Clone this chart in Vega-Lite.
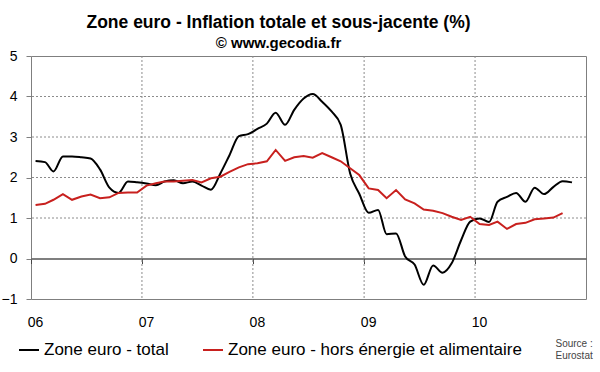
{
  "$schema": "https://vega.github.io/schema/vega-lite/v6.json",
  "width": 555,
  "height": 243,
  "autosize": {"type": "none"},
  "padding": {"left": 31, "top": 56, "right": 14, "bottom": 73},
  "background": "white",
  "title": {
    "text": "Zone euro - Inflation totale et sous-jacente (%)",
    "subtitle": "© www.gecodia.fr",
    "anchor": "middle",
    "frame": "group",
    "dx": -30,
    "offset": -2,
    "font": "Liberation Sans",
    "fontSize": 17.5,
    "fontWeight": "bold",
    "color": "#000000",
    "subtitleFont": "Liberation Sans",
    "subtitleFontSize": 15,
    "subtitleFontWeight": "bold",
    "subtitleColor": "#000000",
    "subtitlePadding": 5
  },
  "config": {
    "font": "Liberation Sans",
    "view": {"stroke": "#7f7f7f", "strokeWidth": 1}
  },
  "datasets": {
    "hgrid": [{"v": 1}, {"v": 2}, {"v": 3}, {"v": 4}],
    "vgrid": [{"d": "2007-01-01"}, {"d": "2008-01-01"}, {"d": "2009-01-01"}, {"d": "2010-01-01"}],
    "series": [
      {"d": "2006-01-16", "s": "Zone euro - total", "v": 2.41},
      {"d": "2006-02-16", "s": "Zone euro - total", "v": 2.38},
      {"d": "2006-03-16", "s": "Zone euro - total", "v": 2.15},
      {"d": "2006-04-16", "s": "Zone euro - total", "v": 2.52},
      {"d": "2006-05-16", "s": "Zone euro - total", "v": 2.52},
      {"d": "2006-06-16", "s": "Zone euro - total", "v": 2.5},
      {"d": "2006-07-16", "s": "Zone euro - total", "v": 2.47},
      {"d": "2006-08-16", "s": "Zone euro - total", "v": 2.2},
      {"d": "2006-09-16", "s": "Zone euro - total", "v": 1.75},
      {"d": "2006-10-16", "s": "Zone euro - total", "v": 1.62},
      {"d": "2006-11-16", "s": "Zone euro - total", "v": 1.9},
      {"d": "2006-12-16", "s": "Zone euro - total", "v": 1.88},
      {"d": "2007-01-16", "s": "Zone euro - total", "v": 1.85},
      {"d": "2007-02-16", "s": "Zone euro - total", "v": 1.81},
      {"d": "2007-03-16", "s": "Zone euro - total", "v": 1.9},
      {"d": "2007-04-16", "s": "Zone euro - total", "v": 1.93},
      {"d": "2007-05-16", "s": "Zone euro - total", "v": 1.86},
      {"d": "2007-06-16", "s": "Zone euro - total", "v": 1.9},
      {"d": "2007-07-16", "s": "Zone euro - total", "v": 1.8},
      {"d": "2007-08-16", "s": "Zone euro - total", "v": 1.7},
      {"d": "2007-09-16", "s": "Zone euro - total", "v": 2.1},
      {"d": "2007-10-16", "s": "Zone euro - total", "v": 2.55},
      {"d": "2007-11-16", "s": "Zone euro - total", "v": 3.02},
      {"d": "2007-12-16", "s": "Zone euro - total", "v": 3.07},
      {"d": "2008-01-16", "s": "Zone euro - total", "v": 3.2},
      {"d": "2008-02-16", "s": "Zone euro - total", "v": 3.33},
      {"d": "2008-03-16", "s": "Zone euro - total", "v": 3.6},
      {"d": "2008-04-16", "s": "Zone euro - total", "v": 3.3},
      {"d": "2008-05-16", "s": "Zone euro - total", "v": 3.67},
      {"d": "2008-06-16", "s": "Zone euro - total", "v": 3.95},
      {"d": "2008-07-16", "s": "Zone euro - total", "v": 4.06},
      {"d": "2008-08-16", "s": "Zone euro - total", "v": 3.87},
      {"d": "2008-09-16", "s": "Zone euro - total", "v": 3.63},
      {"d": "2008-10-16", "s": "Zone euro - total", "v": 3.3},
      {"d": "2008-11-16", "s": "Zone euro - total", "v": 2.1},
      {"d": "2008-12-16", "s": "Zone euro - total", "v": 1.6},
      {"d": "2009-01-16", "s": "Zone euro - total", "v": 1.13},
      {"d": "2009-02-16", "s": "Zone euro - total", "v": 1.2},
      {"d": "2009-03-16", "s": "Zone euro - total", "v": 0.6},
      {"d": "2009-04-16", "s": "Zone euro - total", "v": 0.62},
      {"d": "2009-05-16", "s": "Zone euro - total", "v": 0.05},
      {"d": "2009-06-16", "s": "Zone euro - total", "v": -0.15},
      {"d": "2009-07-16", "s": "Zone euro - total", "v": -0.65},
      {"d": "2009-08-16", "s": "Zone euro - total", "v": -0.17},
      {"d": "2009-09-16", "s": "Zone euro - total", "v": -0.35},
      {"d": "2009-10-16", "s": "Zone euro - total", "v": -0.12},
      {"d": "2009-11-16", "s": "Zone euro - total", "v": 0.45},
      {"d": "2009-12-16", "s": "Zone euro - total", "v": 0.91},
      {"d": "2010-01-16", "s": "Zone euro - total", "v": 0.99},
      {"d": "2010-02-16", "s": "Zone euro - total", "v": 0.9},
      {"d": "2010-03-16", "s": "Zone euro - total", "v": 1.4},
      {"d": "2010-04-16", "s": "Zone euro - total", "v": 1.52},
      {"d": "2010-05-16", "s": "Zone euro - total", "v": 1.62},
      {"d": "2010-06-16", "s": "Zone euro - total", "v": 1.4},
      {"d": "2010-07-16", "s": "Zone euro - total", "v": 1.75},
      {"d": "2010-08-16", "s": "Zone euro - total", "v": 1.59},
      {"d": "2010-09-16", "s": "Zone euro - total", "v": 1.77},
      {"d": "2010-10-16", "s": "Zone euro - total", "v": 1.91},
      {"d": "2010-11-16", "s": "Zone euro - total", "v": 1.88},
      {"d": "2006-01-16", "s": "Zone euro - hors énergie et alimentaire", "v": 1.32},
      {"d": "2006-02-16", "s": "Zone euro - hors énergie et alimentaire", "v": 1.35},
      {"d": "2006-03-16", "s": "Zone euro - hors énergie et alimentaire", "v": 1.45},
      {"d": "2006-04-16", "s": "Zone euro - hors énergie et alimentaire", "v": 1.59},
      {"d": "2006-05-16", "s": "Zone euro - hors énergie et alimentaire", "v": 1.45},
      {"d": "2006-06-16", "s": "Zone euro - hors énergie et alimentaire", "v": 1.53},
      {"d": "2006-07-16", "s": "Zone euro - hors énergie et alimentaire", "v": 1.58},
      {"d": "2006-08-16", "s": "Zone euro - hors énergie et alimentaire", "v": 1.49},
      {"d": "2006-09-16", "s": "Zone euro - hors énergie et alimentaire", "v": 1.51},
      {"d": "2006-10-16", "s": "Zone euro - hors énergie et alimentaire", "v": 1.62},
      {"d": "2006-11-16", "s": "Zone euro - hors énergie et alimentaire", "v": 1.63},
      {"d": "2006-12-16", "s": "Zone euro - hors énergie et alimentaire", "v": 1.63},
      {"d": "2007-01-16", "s": "Zone euro - hors énergie et alimentaire", "v": 1.8},
      {"d": "2007-02-16", "s": "Zone euro - hors énergie et alimentaire", "v": 1.86},
      {"d": "2007-03-16", "s": "Zone euro - hors énergie et alimentaire", "v": 1.9},
      {"d": "2007-04-16", "s": "Zone euro - hors énergie et alimentaire", "v": 1.9},
      {"d": "2007-05-16", "s": "Zone euro - hors énergie et alimentaire", "v": 1.92},
      {"d": "2007-06-16", "s": "Zone euro - hors énergie et alimentaire", "v": 1.94},
      {"d": "2007-07-16", "s": "Zone euro - hors énergie et alimentaire", "v": 1.88},
      {"d": "2007-08-16", "s": "Zone euro - hors énergie et alimentaire", "v": 1.98},
      {"d": "2007-09-16", "s": "Zone euro - hors énergie et alimentaire", "v": 2.02},
      {"d": "2007-10-16", "s": "Zone euro - hors énergie et alimentaire", "v": 2.14},
      {"d": "2007-11-16", "s": "Zone euro - hors énergie et alimentaire", "v": 2.25},
      {"d": "2007-12-16", "s": "Zone euro - hors énergie et alimentaire", "v": 2.33},
      {"d": "2008-01-16", "s": "Zone euro - hors énergie et alimentaire", "v": 2.35},
      {"d": "2008-02-16", "s": "Zone euro - hors énergie et alimentaire", "v": 2.4},
      {"d": "2008-03-16", "s": "Zone euro - hors énergie et alimentaire", "v": 2.68},
      {"d": "2008-04-16", "s": "Zone euro - hors énergie et alimentaire", "v": 2.41},
      {"d": "2008-05-16", "s": "Zone euro - hors énergie et alimentaire", "v": 2.5},
      {"d": "2008-06-16", "s": "Zone euro - hors énergie et alimentaire", "v": 2.53},
      {"d": "2008-07-16", "s": "Zone euro - hors énergie et alimentaire", "v": 2.49},
      {"d": "2008-08-16", "s": "Zone euro - hors énergie et alimentaire", "v": 2.6},
      {"d": "2008-09-16", "s": "Zone euro - hors énergie et alimentaire", "v": 2.5},
      {"d": "2008-10-16", "s": "Zone euro - hors énergie et alimentaire", "v": 2.4},
      {"d": "2008-11-16", "s": "Zone euro - hors énergie et alimentaire", "v": 2.23},
      {"d": "2008-12-16", "s": "Zone euro - hors énergie et alimentaire", "v": 2.06},
      {"d": "2009-01-16", "s": "Zone euro - hors énergie et alimentaire", "v": 1.73},
      {"d": "2009-02-16", "s": "Zone euro - hors énergie et alimentaire", "v": 1.69},
      {"d": "2009-03-16", "s": "Zone euro - hors énergie et alimentaire", "v": 1.49},
      {"d": "2009-04-16", "s": "Zone euro - hors énergie et alimentaire", "v": 1.69},
      {"d": "2009-05-16", "s": "Zone euro - hors énergie et alimentaire", "v": 1.46},
      {"d": "2009-06-16", "s": "Zone euro - hors énergie et alimentaire", "v": 1.36},
      {"d": "2009-07-16", "s": "Zone euro - hors énergie et alimentaire", "v": 1.21},
      {"d": "2009-08-16", "s": "Zone euro - hors énergie et alimentaire", "v": 1.18},
      {"d": "2009-09-16", "s": "Zone euro - hors énergie et alimentaire", "v": 1.12},
      {"d": "2009-10-16", "s": "Zone euro - hors énergie et alimentaire", "v": 1.03},
      {"d": "2009-11-16", "s": "Zone euro - hors énergie et alimentaire", "v": 0.95},
      {"d": "2009-12-16", "s": "Zone euro - hors énergie et alimentaire", "v": 1.03},
      {"d": "2010-01-16", "s": "Zone euro - hors énergie et alimentaire", "v": 0.85},
      {"d": "2010-02-16", "s": "Zone euro - hors énergie et alimentaire", "v": 0.83},
      {"d": "2010-03-16", "s": "Zone euro - hors énergie et alimentaire", "v": 0.91},
      {"d": "2010-04-16", "s": "Zone euro - hors énergie et alimentaire", "v": 0.73},
      {"d": "2010-05-16", "s": "Zone euro - hors énergie et alimentaire", "v": 0.85},
      {"d": "2010-06-16", "s": "Zone euro - hors énergie et alimentaire", "v": 0.88},
      {"d": "2010-07-16", "s": "Zone euro - hors énergie et alimentaire", "v": 0.97},
      {"d": "2010-08-16", "s": "Zone euro - hors énergie et alimentaire", "v": 0.99},
      {"d": "2010-09-16", "s": "Zone euro - hors énergie et alimentaire", "v": 1.01},
      {"d": "2010-10-16", "s": "Zone euro - hors énergie et alimentaire", "v": 1.12}
    ]
  },
  "layer": [
    {
      "data": {"name": "hgrid"},
      "mark": {"type": "rule", "color": "#8c8c8c", "strokeWidth": 1, "strokeDash": [2, 2]},
      "encoding": {
        "y": {
          "field": "v",
          "type": "quantitative",
          "scale": {"domain": [-1, 5], "nice": false},
          "axis": {
            "values": [-1, 0, 1, 2, 3, 4, 5],
            "title": null,
            "domain": false,
            "grid": false,
            "tickSize": 5,
            "tickColor": "#7f7f7f",
            "labelPadding": 9,
            "labelFontSize": 14,
            "labelColor": "#000000",
            "labelFont": "Liberation Sans"
          }
        }
      }
    },
    {
      "data": {"name": "vgrid"},
      "mark": {"type": "rule", "color": "#8c8c8c", "strokeWidth": 1, "strokeDash": [2, 2]},
      "encoding": {
        "x": {
          "field": "d",
          "type": "temporal",
          "scale": {"type": "utc", "domain": [{"year": 2006, "month": 1, "date": 1, "utc": true}, {"year": 2011, "month": 1, "date": 1, "utc": true}]},
          "axis": {
            "values": [{"year": 2006, "month": 1, "date": 1, "utc": true}, {"year": 2007, "month": 1, "date": 1, "utc": true}, {"year": 2008, "month": 1, "date": 1, "utc": true}, {"year": 2009, "month": 1, "date": 1, "utc": true}, {"year": 2010, "month": 1, "date": 1, "utc": true}],
            "labelExpr": "utcFormat(datum.value, '%y')",
            "title": ["Source :", "Eurostat"],
            "titleX": 524,
            "titleY": 80,
            "titleAlign": "left",
            "titleBaseline": "top",
            "titleFont": "Liberation Sans",
            "titleFontSize": 10,
            "titleFontWeight": "normal",
            "titleColor": "#444444",
            "titleLineHeight": 12,
            "offset": -40.5,
            "domain": true,
            "domainColor": "#555555",
            "domainWidth": 1.5,
            "ticks": true,
            "tickSize": 5,
            "tickColor": "#444444",
            "tickWidth": 1,
            "labelPadding": 52,
            "labelOffset": 4,
            "labelFlush": false,
            "labelFontSize": 14,
            "labelColor": "#000000",
            "labelFont": "Liberation Sans",
            "grid": false
          }
        }
      }
    },
    {
      "data": {"name": "series"},
      "encoding": {
        "x": {
          "field": "d",
          "type": "temporal",
          "scale": {"type": "utc", "domain": [{"year": 2006, "month": 1, "date": 1, "utc": true}, {"year": 2011, "month": 1, "date": 1, "utc": true}]},
          "axis": {
            "values": [{"year": 2006, "month": 1, "date": 1, "utc": true}, {"year": 2007, "month": 1, "date": 1, "utc": true}, {"year": 2008, "month": 1, "date": 1, "utc": true}, {"year": 2009, "month": 1, "date": 1, "utc": true}, {"year": 2010, "month": 1, "date": 1, "utc": true}],
            "labelExpr": "utcFormat(datum.value, '%y')",
            "title": ["Source :", "Eurostat"],
            "titleX": 524,
            "titleY": 80,
            "titleAlign": "left",
            "titleBaseline": "top",
            "titleFont": "Liberation Sans",
            "titleFontSize": 10,
            "titleFontWeight": "normal",
            "titleColor": "#444444",
            "titleLineHeight": 12,
            "offset": -40.5,
            "domain": true,
            "domainColor": "#555555",
            "domainWidth": 1.5,
            "ticks": true,
            "tickSize": 5,
            "tickColor": "#444444",
            "tickWidth": 1,
            "labelPadding": 52,
            "labelOffset": 4,
            "labelFlush": false,
            "labelFontSize": 14,
            "labelColor": "#000000",
            "labelFont": "Liberation Sans",
            "grid": false
          }
        },
        "y": {
          "field": "v",
          "type": "quantitative",
          "scale": {"domain": [-1, 5], "nice": false},
          "axis": {
            "values": [-1, 0, 1, 2, 3, 4, 5],
            "title": null,
            "domain": false,
            "grid": false,
            "tickSize": 5,
            "tickColor": "#7f7f7f",
            "labelPadding": 9,
            "labelFontSize": 14,
            "labelColor": "#000000",
            "labelFont": "Liberation Sans"
          }
        },
        "color": {
          "field": "s",
          "type": "nominal",
          "scale": {"domain": ["Zone euro - total", "Zone euro - hors énergie et alimentaire"], "range": ["#000000", "#c8201e"]},
          "legend": {
            "title": null,
            "orient": "none",
            "legendX": -13,
            "legendY": 283,
            "direction": "horizontal",
            "symbolType": "stroke",
            "symbolStrokeWidth": 2,
            "symbolSize": 400,
            "labelFontSize": 17,
            "labelFont": "Liberation Sans",
            "labelColor": "#000000",
            "labelLimit": 500,
            "labelOffset": 4,
            "columnPadding": 30
          }
        }
      },
      "layer": [
        {
          "transform": [{"filter": "datum.s === 'Zone euro - total'"}],
          "mark": {"type": "line", "interpolate": "monotone", "strokeWidth": 2}
        },
        {
          "transform": [{"filter": "datum.s !== 'Zone euro - total'"}],
          "mark": {"type": "line", "strokeWidth": 2}
        }
      ]
    }
  ]
}
